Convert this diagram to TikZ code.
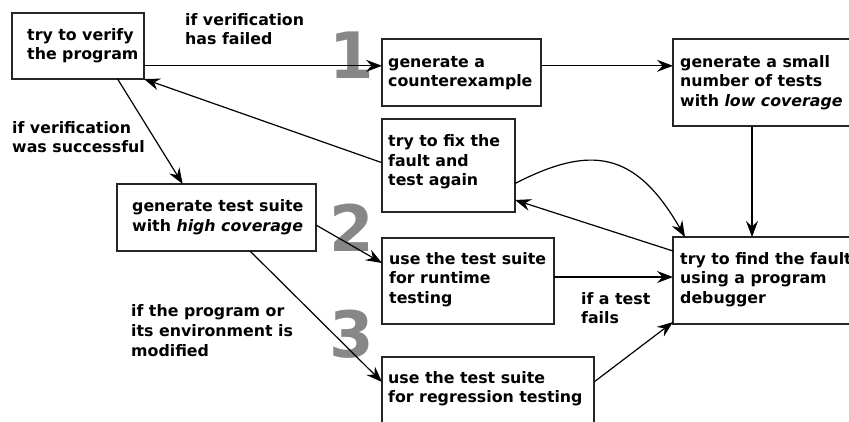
\documentclass[tikz,border=0pt]{standalone}
\usepackage{fontspec}
\setmainfont{DejaVu Sans}
\usetikzlibrary{arrows.meta,calc}
\begin{document}
\begin{tikzpicture}[x=1pt,y=-1pt,
  box/.style={draw=black!85,line width=1.3pt,anchor=north west,inner sep=0pt,outer sep=0pt},
  txt/.style={anchor=north west,inner sep=0pt,align=left,font=\fontsize{15.8}{19.6}\selectfont\bfseries},
  big/.style={anchor=base,inner sep=0pt,text=black!47,font=\fontsize{64}{64}\selectfont\bfseries},
  arr/.style={line width=1.2pt,-{Stealth[length=16pt,width=12pt,inset=5.5pt]}}]
\useasboundingbox (0,0) rectangle (849,421);
\clip (0,0) rectangle (849,421);
% big numbers
\node[big] (n1) at (352,78) {1};
\node[big] (n2) at (352,251) {2};
\node[big] (n3) at (352,357) {3};
% boxes
\node[box,minimum width=132pt,minimum height=66pt] (A) at (12,13) {};
\node[box,minimum width=159pt,minimum height=67pt] (B) at (382,39) {};
\node[box,minimum width=200pt,minimum height=87pt] (C) at (673,39) {};
\node[box,minimum width=133pt,minimum height=93pt] (D) at (382,119) {};
\node[box,minimum width=199pt,minimum height=67pt] (E) at (117,184) {};
\node[box,minimum width=172pt,minimum height=86pt] (F) at (382,238) {};
\node[box,minimum width=212pt,minimum height=80pt] (G) at (382,357) {};
\node[box,minimum width=200pt,minimum height=87pt] (H) at (673,237) {};
% texts
\node[txt] (tA) at (27,26.3) {\strut try to verify\\the program};
\node[txt] (tB) at (388,53.3) {\strut generate a\\counterexample};
\node[txt] (tC) at (680,53.3) {\strut generate a small\\number of tests\\with \textit{low coverage}};
\node[txt] (tD) at (388,132.8) {\strut try to fix the\\fault and\\test again};
\node[txt] (tE) at (132,197.8) {\strut generate test suite\\with \textit{high coverage}};
\node[txt] (tF) at (389,250.3) {\strut use the test suite\\for runtime\\testing};
\node[txt] (tH) at (680,250.3) {\strut try to find the fault\\using a program\\debugger};
\node[txt] (tG) at (388,369.3) {\strut use the test suite\\for regression testing};
\node[txt] (l1) at (185,11.3) {\strut if verification\\has failed};
\node[txt] (l2) at (12,119.3) {\strut if verification\\was successful};
\node[txt] (l3) at (131,303) {\strut if the program or\\its environment is\\modified};
\node[txt] (l4) at (581,290.3) {\strut if a test\\fails};
% connectors
\coordinate (a1) at ($(A.north east)!0.8!(A.south east)$);
\draw[arr] (a1) -- (a1 -| B.west);
\draw[arr] (a1 -| B.east) -- (a1 -| C.west);
\draw[arr] ($(A.south west)!0.8!(A.south east)$) -- ($(E.north west)!0.33!(E.north east)$);
\draw[arr] ($(D.north west)!0.47!(D.south west)$) -- (A.south east);
\coordinate (c1) at ([xshift=79pt]C.south west);
\draw[arr] (c1) -- (c1 |- H.north);
\draw[arr] ([yshift=-18pt]D.east) .. controls (590,145) and (635,150) .. ([xshift=12pt]H.north west);
\draw[arr] ([yshift=-14pt]H.north west) -- ([yshift=-81pt]D.north east);
\draw[arr] ([yshift=-7.5pt]E.east) -- ([yshift=-25pt]F.north west);
\draw[arr] ([xshift=133pt]E.south west) -- ([yshift=-25pt]G.north west);
\coordinate (f1) at ([yshift=-39pt]F.north east);
\draw[arr] (f1) -- (f1 -| H.west);
\draw[arr] ([yshift=-25pt]G.north east) -- ([yshift=2pt]H.south west);
\end{tikzpicture}
\end{document}
